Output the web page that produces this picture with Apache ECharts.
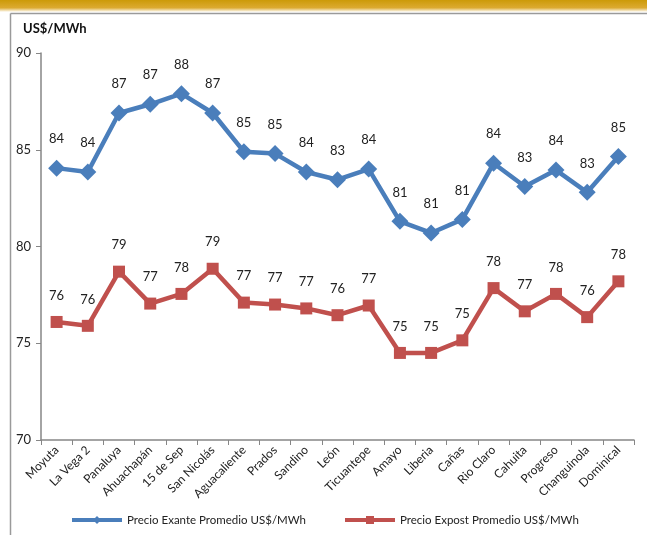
<!DOCTYPE html>
<html><head><meta charset="utf-8">
<script src="https://cdn.jsdelivr.net/npm/echarts@6/dist/echarts.min.js"></script>
<style>html,body{margin:0;padding:0;background:#fff}#c{width:647px;height:535px}</style>
</head><body><div id="c"></div>
<script>
const categories = ["Moyuta","La Vega 2","Panaluya","Ahuachapán","15 de Sep","San Nicolás","Aguacaliente","Prados","Sandino","León","Ticuantepe","Amayo","Liberia","Cañas","Rio Claro","Cahuita","Progreso","Changuinola","Dominical"];
const exante = [84.05,83.85,86.9,87.35,87.9,86.9,84.9,84.8,83.85,83.45,84.0,81.3,80.7,81.4,84.3,83.1,83.95,82.8,84.65];
const expost = [76.1,75.9,78.7,77.05,77.55,78.85,77.1,77.0,76.8,76.45,76.95,74.5,74.5,75.15,77.85,76.65,77.55,76.35,78.2];
const seriesNames = ["Precio Exante Promedio US$/MWh","Precio Expost Promedio US$/MWh"];
const yTitle = "US$/MWh";
const FONT = "Lato, 'Open Sans', sans-serif";
const chart = echarts.init(document.getElementById('c'));
const lbl = {show:true, position:'top', distance:14, color:'#222', fontSize:13, fontFamily:FONT, formatter:p=>Math.round(p.value)};
const legBase = {top:514, padding:0, itemWidth:50, itemHeight:10, lineStyle:{width:4}, textStyle:{fontSize:11.5, color:'#222', fontFamily:FONT}};
chart.setOption({
  animation:false,
  textStyle:{fontFamily:FONT},
  graphic:[
    {type:'rect', left:0, top:0, shape:{width:647,height:12}, style:{fill:new echarts.graphic.LinearGradient(0,0,0,1,[{offset:0,color:'#cc9a08'},{offset:0.65,color:'#dcaa30'},{offset:1,color:'#ffffff'}])}},
    {type:'line', shape:{x1:10.5,y1:13.5,x2:647,y2:13.5}, style:{stroke:'#9a9a9a', lineWidth:1.5}},
    {type:'line', shape:{x1:10.5,y1:13.5,x2:10.5,y2:535}, style:{stroke:'#9a9a9a', lineWidth:1.5}},
    {type:'text', left:23, top:22, style:{text:yTitle, font:"bold 13px "+FONT, fill:'#111'}}
  ],
  grid:{left:41, right:13, top:53, bottom:95},
  legend:[
    Object.assign({left:70, data:[seriesNames[0]]}, legBase),
    Object.assign({left:343, data:[seriesNames[1]]}, legBase)
  ],
  xAxis:{type:'category', data:categories, boundaryGap:true,
    axisLine:{lineStyle:{color:'#868686', width:1.5}},
    axisTick:{show:true, length:5, lineStyle:{color:'#868686'}},
    axisLabel:{rotate:45, fontSize:12, color:'#222', margin:8, interval:0}},
  yAxis:{type:'value', min:70, max:90, interval:5, splitLine:{show:false},
    axisLine:{show:true, lineStyle:{color:'#868686', width:1.5}},
    axisTick:{show:true, length:5, lineStyle:{color:'#868686'}},
    axisLabel:{fontSize:13, color:'#222', margin:10}},
  series:[
    {name:seriesNames[0], type:'line', data:exante, symbol:'diamond', symbolSize:17, lineStyle:{width:4.5, color:'#4a7ebb'}, itemStyle:{color:'#4a7ebb'}, label:lbl},
    {name:seriesNames[1], type:'line', data:expost, symbol:'rect', symbolSize:12, lineStyle:{width:4.5, color:'#c0504d'}, itemStyle:{color:'#c0504d'}, label:lbl}
  ]
});
</script></body></html>
